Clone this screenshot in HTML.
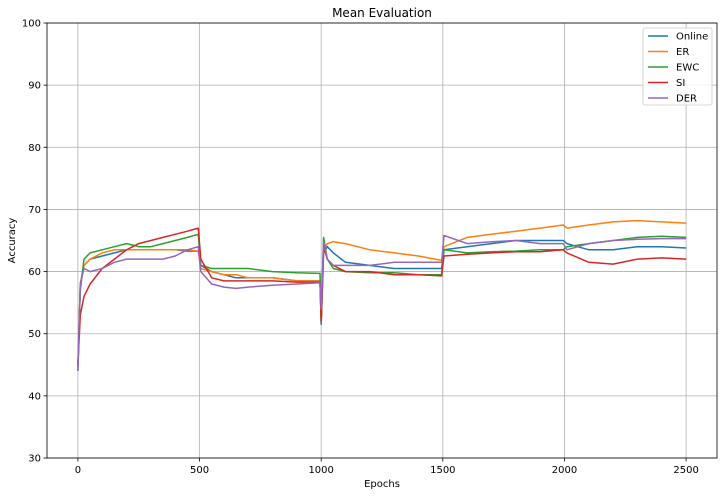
<!DOCTYPE html>
<html><head><meta charset="utf-8"><style>
body{margin:0;background:#fff;font-family:"Liberation Sans","DejaVu Sans",sans-serif;}
svg text{font-family:"DejaVu Sans","Liberation Sans",sans-serif;font-size:10px;fill:#000}
</style></head><body>
<svg id="chart" width="723" height="496" xmlns="http://www.w3.org/2000/svg"></svg>
<script>
const epochs=[0,10,25,50,100,150,200,250,300,350,400,450,495,505,550,600,650,700,800,900,995,1000,1010,1025,1050,1100,1200,1300,1400,1495,1505,1600,1700,1800,1900,1995,2010,2100,2200,2300,2400,2500];
const seriesNames=["Online","ER","EWC","SI","DER"];
const onlineVals=[44,58,61,62,62.5,63,63.5,63.5,63.5,63.5,63.5,63.3,63.3,61,60,59.5,59,59,59,58.5,58.5,51.5,63,64,63,61.5,61,60.5,60.5,60.5,63.5,64,64.5,65,65,65,64.5,63.5,63.5,64,64,63.8];
const erVals=[45,58,61,62,63,63.5,63.5,63.5,63.5,63.5,63.5,63.5,63.3,60.5,60,59.5,59.5,59,59,58.5,58.5,52,63.5,64.5,64.8,64.5,63.5,63,62.5,61.8,64,65.5,66,66.5,67,67.5,67,67.5,68,68.2,68,67.8];
const ewcVals=[45,57,62,63,63.5,64,64.5,64,64,64.5,65,65.5,66,61,60.5,60.5,60.5,60.5,60,59.8,59.7,52,65.5,62,60.5,60,59.8,59.8,59.5,59.5,63.5,63,63.2,63.3,63.5,63.5,64,64.5,65,65.5,65.7,65.5];
const siVals=[45,53,56,58,60.5,62,63.5,64.5,65,65.5,66,66.5,67,62,59,58.5,58.5,58.5,58.5,58.3,58.3,52,64,62,61,60,60,59.5,59.5,59.3,62.5,62.8,63,63.2,63.2,63.5,63,61.5,61.2,62,62.2,62];
const derVals=[44,58,60.5,60,60.5,61.5,62,62,62,62,62.5,63.5,64,60,58,57.5,57.3,57.5,57.8,58,58.2,54,64.8,62,61,61,61,61.5,61.5,61.5,65.8,64.5,64.8,65,64.5,64.5,63.5,64.5,65,65.2,65.3,65.3];
const colors=["#1f77b4","#ff7f0e","#2ca02c","#d62728","#9467bd"];
const xTicks=[0,500,1000,1500,2000,2500];
const yTicks=[30,40,50,60,70,80,90,100];

const L=47,R=717,T=23,B=458,xmin=-127,xmax=2627,ymin=30,ymax=100;
const xs=v=>L+(v-xmin)/(xmax-xmin)*(R-L);
const ys=v=>B-(v-ymin)/(ymax-ymin)*(B-T);
const svg=document.getElementById('chart');
const NS="http://www.w3.org/2000/svg";
function mk(tag,attrs,parent){const e=document.createElementNS(NS,tag);for(const k in attrs)e.setAttribute(k,attrs[k]);(parent||svg).appendChild(e);return e;}

// grid and ticks
xTicks.forEach(t=>{
  const g=mk('line',{x1:xs(t),x2:xs(t),y1:T,y2:B,stroke:'#b0b0b0','stroke-width':0.8});
  
  
  mk('line',{x1:xs(t),x2:xs(t),y1:B,y2:B+3.5,stroke:'#000','stroke-width':0.8});
  const tx=mk('text',{x:xs(t),y:B+15,'text-anchor':'middle'});tx.textContent=t;
  
  
});
yTicks.forEach(t=>{
  const g=mk('line',{x1:L,x2:R,y1:ys(t),y2:ys(t),stroke:'#b0b0b0','stroke-width':0.8});
  
  
  mk('line',{x1:L-3.5,x2:L,y1:ys(t),y2:ys(t),stroke:'#000','stroke-width':0.8});
  const tx=mk('text',{x:L-6,y:ys(t)+3.5,'text-anchor':'end'});tx.textContent=t;
  
  
});

const all=[onlineVals,erVals,ewcVals,siVals,derVals];
all.forEach((vals,i)=>{
  const d=vals.map((v,j)=>(j?'L':'M')+xs(epochs[j]).toFixed(1)+','+ys(v).toFixed(1)).join(' ');
  const p=mk('path',{d:d,fill:'none',stroke:colors[i],'stroke-width':1.5,'stroke-linejoin':'round'});
  
  
});

const frame=mk('rect',{x:L,y:T,width:R-L,height:B-T,fill:'none',stroke:'#000','stroke-width':0.8});



const title=mk('text',{x:(L+R)/2,y:17,'text-anchor':'middle',style:'font-size:12px'});title.textContent='Mean Evaluation';


const xl=mk('text',{x:(L+R)/2,y:487,'text-anchor':'middle'});xl.textContent='Epochs';


const yl=mk('text',{x:15,y:(T+B)/2,'text-anchor':'middle',transform:'rotate(-90 15 '+(T+B)/2+')'});yl.textContent='Accuracy';



// legend
const lg=mk('g',{});


mk('rect',{x:643,y:28,width:69,height:77,fill:'#fff','fill-opacity':0.8,stroke:'#ccc','stroke-width':0.8,rx:2},lg);
seriesNames.forEach((n,i)=>{
  const y=36+i*15.5;
  const e=mk('g',{},lg);
  
  
  mk('line',{x1:648,x2:668,y1:y,y2:y,stroke:colors[i],'stroke-width':1.5},e);
  const t=mk('text',{x:676,y:y+3.5},e);t.textContent=n;
});
</script>
</body></html>
